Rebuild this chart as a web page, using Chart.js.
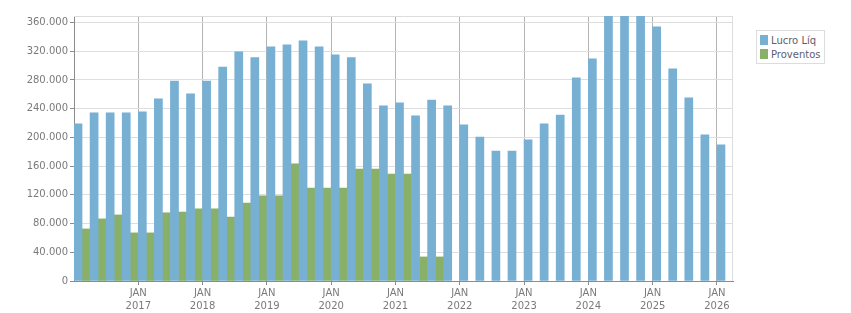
<!DOCTYPE html>
<html>
<head>
<meta charset="utf-8">
<script src="https://cdn.jsdelivr.net/npm/chart.js@4/dist/chart.umd.min.js"></script>
<style>
  html, body { margin: 0; padding: 0; background: #fff; }
  #wrap { position: relative; width: 851px; height: 313px; }
  #legend { position: absolute; left: 756px; top: 30px; border: 1px solid #dcdcdc; padding: 2px 3px 2px 3px;
            font-family: "DejaVu Sans", sans-serif; font-size: 10px; color: #5e5e70; background: #fff; }
  #legend .it { display: flex; align-items: center; height: 14px; white-space: nowrap; }
  #legend .sw { width: 8px; height: 10px; margin-right: 3px; display: inline-block; }
</style>
</head>
<body>
<div id="wrap">
  <canvas id="c" width="851" height="313"></canvas>
  <div id="legend"></div>
</div>
<script>
// Quarter categories (start of each quarter)
const quarters = [
  '2016-01','2016-04','2016-07','2016-10',
  '2017-01','2017-04','2017-07','2017-10',
  '2018-01','2018-04','2018-07','2018-10',
  '2019-01','2019-04','2019-07','2019-10',
  '2020-01','2020-04','2020-07','2020-10',
  '2021-01','2021-04','2021-07','2021-10',
  '2022-01','2022-04','2022-07','2022-10',
  '2023-01','2023-04','2023-07','2023-10',
  '2024-01','2024-04','2024-07','2024-10',
  '2025-01','2025-04','2025-07','2025-10',
  '2026-01'
];
const monthNames = { '01': 'JAN', '04': 'ABR', '07': 'JUL', '10': 'OUT' };
const seriesNames = ['Lucro Líq', 'Proventos'];
const lucroLiq = [
  219000, 234000, 234000, 234000,
  235500, 253500, 278500, 260500,
  278500, 298000, 319000, 311000,
  326000, 329000, 334500, 326000,
  315000, 311000, 274500, 244000,
  248000, 230000, 252000, 244000,
  217500, 200500, 181000, 181000,
  196500, 219000, 231000, 283000,
  309500, 380000, 395000, 385000,
  354000, 295500, 255000, 203500,
  189500
];
const proventos = [
  72500, 86500, 92000, 67000,
  67000, 95000, 96000, 100500,
  100500, 89000, 108500, 118500,
  118500, 163000, 129500, 129500,
  129500, 156000, 156000, 149000,
  149000, 33500, 33500, null,
  null, null, null, null,
  null, null, null, null,
  null, null, null, null,
  null, null, null, null,
  null
];
const yTicks = [0, 20000, 40000, 60000, 80000, 100000, 120000, 140000, 160000, 180000,
                200000, 220000, 240000, 260000, 280000, 300000, 320000, 340000, 360000];
const yMax = 369000;
const colors = ['#77b0d3', '#89b069'];

function fmt(v) { return String(v).replace(/\B(?=(\d{3})+(?!\d))/g, '.'); }
const toPoints = arr => arr.map((v, i) => ({ x: i + 0.5, y: v }));
// x ticks: the start of each January quarter (except the first, which sits on the y axis)
const xTickIdx = quarters.map((q, i) => i).filter(i => i > 0 && quarters[i].endsWith('-01'));

const framePlugin = {
  id: 'frame',
  beforeDatasetsDraw(chart) {
    const { ctx, chartArea: a } = chart;
    ctx.save();
    ctx.strokeStyle = '#dcdcdc';
    ctx.lineWidth = 1;
    ctx.beginPath();
    ctx.moveTo(a.left, Math.round(a.top) + 0.5);
    ctx.lineTo(a.right, Math.round(a.top) + 0.5);
    ctx.moveTo(Math.round(a.right) - 0.5, a.top);
    ctx.lineTo(Math.round(a.right) - 0.5, a.bottom);
    ctx.stroke();
    ctx.restore();
  }
};

const chart = new Chart(document.getElementById('c'), {
  type: 'bar',
  data: {
    datasets: [
      { label: seriesNames[0], data: toPoints(lucroLiq), backgroundColor: colors[0], borderWidth: 0 },
      { label: seriesNames[1], data: toPoints(proventos), backgroundColor: colors[1], borderWidth: 0 }
    ]
  },
  options: {
    responsive: false,
    animation: false,
    layout: { padding: { left: 0, top: 16, right: 118, bottom: 0 } },
    datasets: { bar: { barPercentage: 1, categoryPercentage: 1 } },
    plugins: { legend: { display: false }, tooltip: { enabled: false } },
    scales: {
      x: {
        type: 'linear',
        offset: false,
        min: 0,
        max: quarters.length,
        afterFit(s) { s.height = 32; },
        afterBuildTicks(s) { s.ticks = xTickIdx.map(v => ({ value: v })); },
        grid: { color: '#b4b4b4', tickColor: '#8c8c8c', tickLength: 4, offset: false },
        border: { color: '#8c8c8c' },
        ticks: {
          autoSkip: false,
          maxRotation: 0,
          padding: 2,
          color: '#7a7a7a',
          font: { family: 'DejaVu Sans', size: 10, lineHeight: 1.27 },
          callback(v) {
            const q = quarters[v];
            if (!q) return '';
            const [yr, mo] = q.split('-');
            return [monthNames[mo], yr];
          }
        }
      },
      y: {
        min: 0,
        max: yMax,
        afterFit(s) { s.width = 74; },
        afterBuildTicks(s) { s.ticks = yTicks.map(v => ({ value: v })); },
        grid: { color: '#dedede', tickColor: '#8c8c8c', tickLength: 4 },
        border: { color: '#8c8c8c' },
        ticks: {
          padding: 2,
          color: '#7a7a7a',
          font: { family: 'DejaVu Sans', size: 10 },
          callback: v => fmt(v)
        }
      }
    }
  },
  plugins: [framePlugin]
});

// HTML legend built from the dataset definitions
const lg = document.getElementById('legend');
chart.data.datasets.forEach(ds => {
  const it = document.createElement('div');
  it.className = 'it';
  const sw = document.createElement('span');
  sw.className = 'sw';
  sw.style.background = ds.backgroundColor;
  const tx = document.createElement('span');
  tx.textContent = ds.label;
  it.appendChild(sw); it.appendChild(tx);
  lg.appendChild(it);
});
</script>
</body>
</html>
